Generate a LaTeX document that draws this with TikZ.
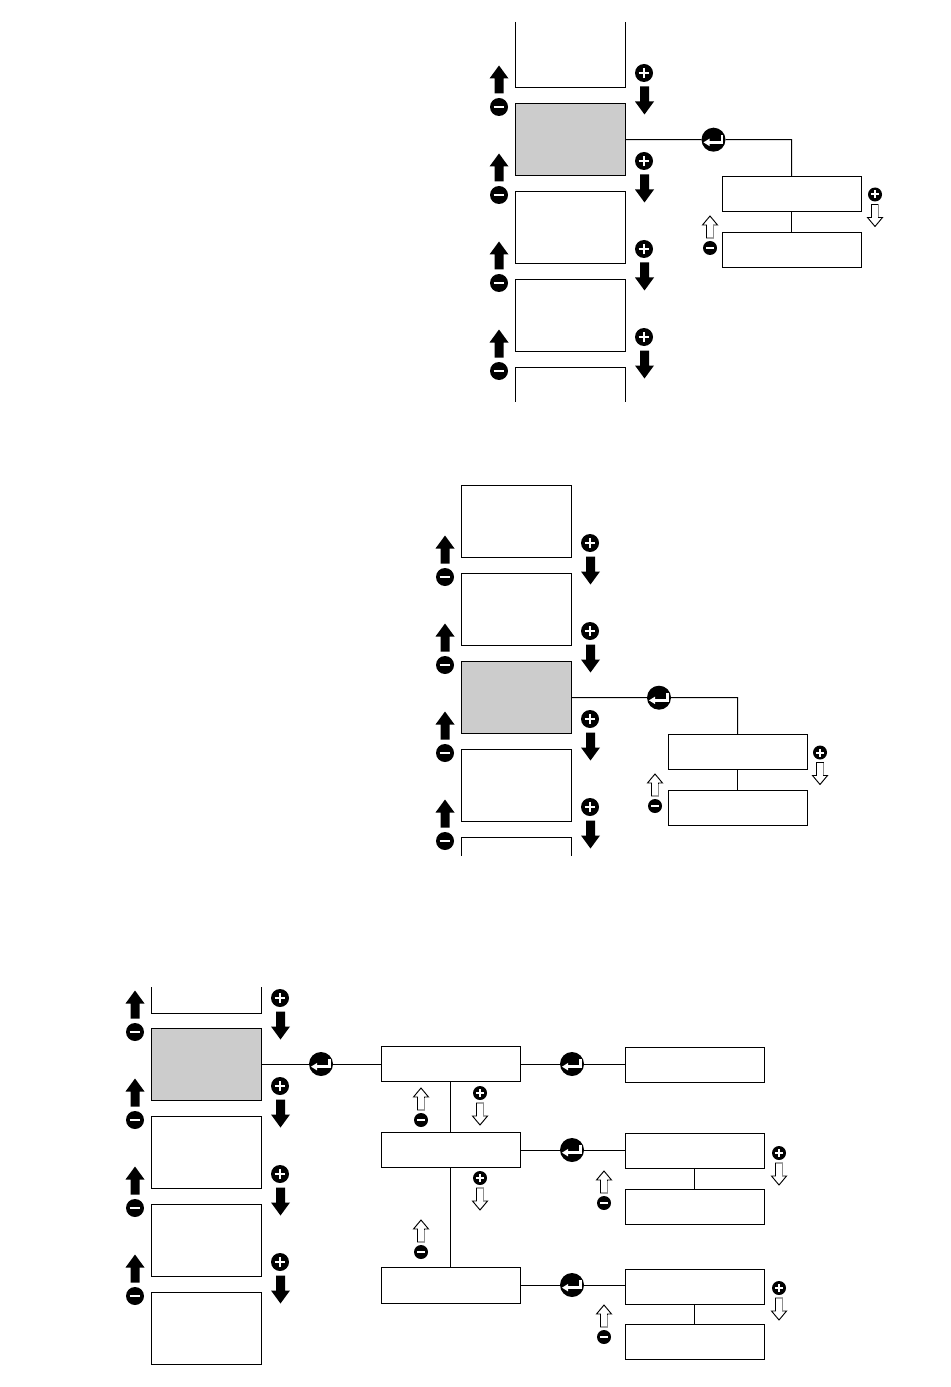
\documentclass[tikz,border=0pt]{standalone}
\usepackage{xcolor}
\usepackage{tikz}
\definecolor{selgray}{gray}{0.8}
\definecolor{edgegray}{gray}{0.55}
\tikzset{
    wire/.style={line width=0.75pt},
    menubox/.style={draw=black, wire, fill=white, anchor=north west, inner sep=0pt, outer sep=0pt, minimum width=82.5pt, minimum height=54.5pt},
    selbox/.style={menubox, fill=selgray},
    openbox/.style={anchor=north west, inner sep=0pt, outer sep=0pt, minimum width=82.5pt},
    subbox/.style={menubox, minimum width=104.5pt, minimum height=26.25pt},
    btn/.style={circle, fill=black, inner sep=0pt, outer sep=0pt},
    minusbig/.style={btn, minimum size=13.5pt, path picture={
        \draw[white, line width=2pt] ([xshift=-4pt]path picture bounding box.center) -- ([xshift=4pt]path picture bounding box.center);}},
    plusbig/.style={btn, minimum size=13.5pt, path picture={
        \draw[white, line width=2pt] ([xshift=-4pt]path picture bounding box.center) -- ([xshift=4pt]path picture bounding box.center);
        \draw[white, line width=2pt] ([yshift=-4pt]path picture bounding box.center) -- ([yshift=4pt]path picture bounding box.center);}},
    minussmall/.style={btn, minimum size=10.5pt, path picture={
        \draw[white, line width=1.5pt] ([xshift=-3pt]path picture bounding box.center) -- ([xshift=3pt]path picture bounding box.center);}},
    plussmall/.style={btn, minimum size=10.5pt, path picture={
        \draw[white, line width=1.5pt] ([xshift=-3pt]path picture bounding box.center) -- ([xshift=3pt]path picture bounding box.center);
        \draw[white, line width=1.5pt] ([yshift=-3pt]path picture bounding box.center) -- ([yshift=3pt]path picture bounding box.center);}},
    enterbtn/.style={btn, minimum size=18pt, path picture={
        \fill[white] ([shift={(-7.5pt,-2pt)}]path picture bounding box.center) -- ++(4.5pt,2.8pt) -- ++(0,-5.6pt) -- cycle;
        \draw[white, line width=1.9pt] ([shift={(-4pt,-2pt)}]path picture bounding box.center) -- ++(10.5pt,0) -- ++(0,5.5pt);}},
    bigup/.pic={\fill[black] (0,0) -- (9.5,13) -- (4.5,13) -- (4.5,28) -- (-4.5,28) -- (-4.5,13) -- (-9.5,13) -- cycle;},
    bigdown/.pic={\fill[black] (0,0) -- (9.5,-13) -- (4.5,-13) -- (4.5,-28) -- (-4.5,-28) -- (-4.5,-13) -- (-9.5,-13) -- cycle;},
    smallup/.pic={
        \draw[black, line width=0.7pt, fill=white] (0,0) -- (7.5,9) -- (3.5,9) -- (3.5,22) -- (-3.5,22) -- (-3.5,9) -- (-7.5,9) -- cycle;
        \draw[edgegray, line width=0.8pt] (3.5,9.5) -- (3.5,22);},
    smalldown/.pic={
        \draw[black, line width=0.7pt, fill=white] (0,0) -- (7.5,-9) -- (3.5,-9) -- (3.5,-22) -- (-3.5,-22) -- (-3.5,-9) -- (-7.5,-9) -- cycle;
        \draw[edgegray, line width=0.8pt] (3.5,-9.5) -- (3.5,-22);}
}

% arrows and keys between two big boxes: left edge, bottom edge, name
\newcommand{\bigkeys}[3]{
    \pic at (#1-16,#2-22.5) {bigup};
    \node[minusbig] (minus#3) at (#1-16,#2+19) {};
    \node[plusbig] (plus#3) at (#1+129,#2-15) {};
    \pic at (#1+129.5,#2+26.5) {bigdown};
}
% small key with hollow arrow: x, y of arrow tip or of key, name
\newcommand{\smallminus}[3]{
    \pic at (#1,#2) {smallup};
    \node[minussmall] (minus#3) at (#1,#2+32) {};
}
\newcommand{\smallplus}[3]{
    \node[plussmall] (plus#3) at (#1,#2) {};
    \pic at (#1,#2+32) {smalldown};
}

\begin{document}
\begin{tikzpicture}[x=0.75pt, y=-0.75pt]

    \useasboundingbox (0,0) rectangle (950,1387);

    % Top menu
    \node[openbox, minimum height=49.5pt] (a0) at (515,22) {};
    \draw[wire] (a0.north west) -- (a0.south west) -- (a0.south east) -- (a0.north east);
    \node[selbox] (a1) at (515,103.3) {};
    \node[menubox] (a2) at (515,191.3) {};
    \node[menubox] (a3) at (515,279.3) {};
    \node[openbox, minimum height=26pt] (a4) at (515,367.3) {};
    \draw[wire] (a4.south west) -- (a4.north west) -- (a4.north east) -- (a4.south east);
    \foreach \y/\n in {88/a, 176/b, 264/c, 352/d} {
        \bigkeys{515}{\y}{top\n}
    }

    % Top submenu
    \node[enterbtn] (entera) at (713.5,139.7) {};
    \node[subbox] (aa) at (722,176.3) {};
    \node[subbox] (ab) at (722,232.3) {};
    \draw[wire] (a1.east) -- (entera) -| (aa.north);
    \draw[wire] (aa) -- (ab);
    \smallplus{875}{194.5}{aa}
    \smallminus{710}{216}{aa}

    % Middle menu
    \node[menubox] (b0) at (461,485.3) {};
    \node[menubox] (b1) at (461,573.3) {};
    \node[selbox] (b2) at (461,661.3) {};
    \node[menubox] (b3) at (461,749.3) {};
    \node[openbox, minimum height=14pt] (b4) at (461,837.3) {};
    \draw[wire] (b4.south west) -- (b4.north west) -- (b4.north east) -- (b4.south east);
    \foreach \y/\n in {558/a, 646/b, 734/c, 822/d} {
        \bigkeys{461}{\y}{mid\n}
    }

    % Middle submenu
    \node[enterbtn] (enterb) at (659,697.7) {};
    \node[subbox] (ba) at (668,734.3) {};
    \node[subbox] (bb) at (668,790.3) {};
    \draw[wire] (b2.east) -- (enterb) -| (ba.north);
    \draw[wire] (ba) -- (bb);
    \smallplus{820}{752.5}{ba}
    \smallminus{655}{774}{ba}

    % Bottom menu
    \node[openbox, minimum height=19.5pt] (c0) at (151,987) {};
    \draw[wire] (c0.north west) -- (c0.south west) -- (c0.south east) -- (c0.north east);
    \node[selbox] (c1) at (151,1028.3) {};
    \node[menubox] (c2) at (151,1116.3) {};
    \node[menubox] (c3) at (151,1204.3) {};
    \node[menubox] (c4) at (151,1292.3) {};
    \foreach \y/\n in {1013/a, 1101/b, 1189/c, 1277/d} {
        \bigkeys{151}{\y}{low\n}
    }

    % Bottom submenu, first level
    \node[subbox] (ca) at (381,1046.3) {};
    \node[subbox] (cb) at (381,1132.3) {};
    \node[subbox, minimum height=27pt] (cc) at (381,1267.3) {};
    \draw[wire] (ca) -- (cb);
    \draw[wire] (cb) -- (cc);
    \smallminus{421}{1088}{ca}
    \smallplus{480}{1093}{ca}
    \smallminus{421}{1220}{cb}
    \smallplus{480}{1178}{cb}

    % Bottom submenu, second level
    \node[subbox] (da) at (625,1047.3) {};
    \node[subbox] (db) at (625,1133.3) {};
    \node[subbox] (dc) at (625,1189.3) {};
    \node[subbox] (dd) at (625,1269.3) {};
    \node[subbox] (de) at (625,1324.3) {};
    \draw[wire] (db) -- (dc);
    \draw[wire] (dd) -- (de);
    \smallminus{604}{1171}{db}
    \smallplus{779}{1153}{db}
    \smallminus{604}{1305}{dd}
    \smallplus{779}{1288}{dd}

    % Enter keys of the bottom menu
    \node[enterbtn] (enterc) at (321,1064) {};
    \node[enterbtn] (enterd) at (572,1064) {};
    \node[enterbtn] (entere) at (572,1150) {};
    \node[enterbtn] (enterf) at (572,1285) {};
    \draw[wire] (enterc -| c1.east) -- (enterc) -- (enterc -| ca.west);
    \draw[wire] (enterd -| ca.east) -- (enterd) -- (enterd -| da.west);
    \draw[wire] (entere -| cb.east) -- (entere) -- (entere -| db.west);
    \draw[wire] (enterf -| cc.east) -- (enterf) -- (enterf -| dd.west);

\end{tikzpicture}
\end{document}
